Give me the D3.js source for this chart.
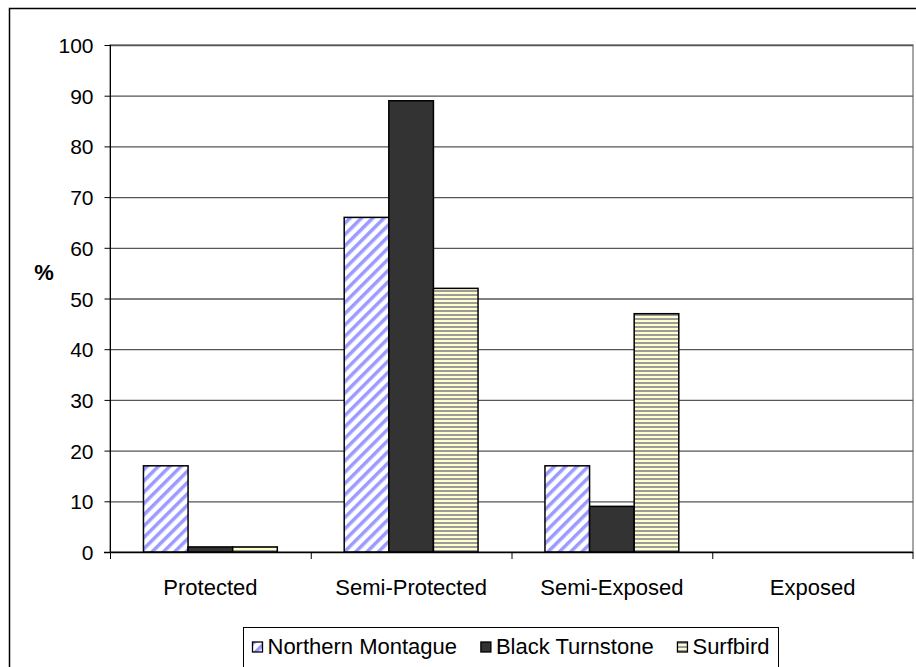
<!DOCTYPE html>
<html><head><meta charset="utf-8">
<script src="https://cdn.jsdelivr.net/npm/d3@7"></script>
<style>body{margin:0;background:#fff}svg{display:block;font-family:Arial,"Liberation Sans",sans-serif}</style>
</head><body>
<svg id="c" width="916" height="667"></svg>
<script>
const categories = ["Protected", "Semi-Protected", "Semi-Exposed", "Exposed"];
const seriesNames = ["Northern Montague", "Black Turnstone", "Surfbird"];
const northernMontague = [17, 66, 17, 0];
const blackTurnstone = [1, 89, 9, 0];
const surfbird = [1, 52, 47, 0];
const yTicks = [0, 10, 20, 30, 40, 50, 60, 70, 80, 90, 100];

(function(){
const FONT = "Arial, Liberation Sans, sans-serif";
const seriesValues = [northernMontague, blackTurnstone, surfbird];
const svg = d3.select("#c");
const defs = svg.append("defs");

const p1 = defs.append("pattern").attr("id","diag").attr("patternUnits","userSpaceOnUse")
  .attr("width",8).attr("height",8).attr("patternTransform","rotate(45)");
p1.append("rect").attr("width",8).attr("height",8).attr("fill","#fff");
p1.append("rect").attr("x",0).attr("width",3.5).attr("height",8).attr("fill","#9a9aff");
const p2 = defs.append("pattern").attr("id","horiz").attr("patternUnits","userSpaceOnUse")
  .attr("width",4).attr("height",4);
p2.append("rect").attr("width",4).attr("height",4).attr("fill","#ffffcc");
p2.append("rect").attr("y",2).attr("width",4).attr("height",2).attr("fill","#9b9b9b");

const fills = ["url(#diag)", "#333333", "url(#horiz)"];

svg.append("rect").attr("x",9.5).attr("y",8.5).attr("width",930).attr("height",700)
  .attr("fill","none").attr("stroke","#000").attr("stroke-width",1.5);

const L = 110, R = 913, T = 45, B = 552;
const x0 = d3.scaleBand().domain(categories).range([L, R]);
const bw = x0.bandwidth();
const barW = bw / 4.5;
const xs = d3.scaleBand().domain(seriesNames).range([barW*0.75, bw - barW*0.75]);
const y = d3.scaleLinear().domain([0,100]).range([B, T]);

svg.append("rect").attr("x",L).attr("y",T).attr("width",R-L).attr("height",B-T)
  .attr("fill","none").attr("stroke","#888").attr("stroke-width",1.5);

svg.append("g").selectAll("line").data(yTicks.filter(d=>d>0)).join("line")
  .attr("x1",L).attr("x2",R).attr("y1",d=>y(d)+0.5).attr("y2",d=>y(d)+0.5)
  .attr("stroke","#555").attr("stroke-width",1.3);

const g = svg.append("g");
categories.forEach((c,i)=>{
  seriesNames.forEach((s,j)=>{
    const v = seriesValues[j][i];
    if (v <= 0) return;
    g.append("rect")
      .attr("x", x0(c) + xs(s))
      .attr("y", y(v))
      .attr("width", xs.bandwidth())
      .attr("height", y(0)-y(v))
      .attr("fill", fills[j]).attr("stroke","#000").attr("stroke-width",1.5);
  });
});

const yAxis = d3.axisLeft(y).tickValues(yTicks).tickSize(6).tickPadding(11);
const ya = svg.append("g").attr("transform",`translate(${L+0.5},0)`).call(yAxis);
ya.attr("font-size",21).attr("font-family",FONT);
ya.select(".domain").attr("stroke","#000").attr("d",`M0,${T}V${B+7}`);
ya.selectAll(".tick line").attr("stroke","#000");
ya.selectAll("text").attr("fill","#000").attr("dy","0.36em");

const xAxis = d3.axisBottom(x0).tickSize(0).tickPadding(27);
const xa = svg.append("g").attr("transform",`translate(0,${B+0.5})`).call(xAxis);
xa.attr("font-size",22).attr("font-family",FONT);
xa.select(".domain").attr("stroke","#000").attr("stroke-width",1.5).attr("d",`M${L-6},0H${R}`);
xa.selectAll("text").attr("fill","#000");
svg.append("g").selectAll("line").data(categories.slice(1)).join("line")
  .attr("x1",d=>x0(d)+0.5).attr("x2",d=>x0(d)+0.5).attr("y1",B).attr("y2",B+7)
  .attr("stroke","#000");
svg.append("line").attr("x1",R).attr("x2",R).attr("y1",B).attr("y2",B+7).attr("stroke","#000");

svg.append("text").attr("x",44).attr("y",280).attr("text-anchor","middle")
  .attr("font-size",22).attr("font-weight","bold").attr("font-family",FONT).text("%");

// legend
const boxL = 243.5, boxR = 778.5;
const lg = svg.append("g").attr("font-family",FONT).attr("font-size",22);
lg.append("rect").attr("x",boxL).attr("y",627.5).attr("width",boxR-boxL).attr("height",60)
  .attr("fill","#fff").attr("stroke","#000").attr("stroke-width",1);
const texts = seriesNames.map(s => lg.append("text").attr("y",654).text(s));
const widths = texts.map(t => t.node().getComputedTextLength());
const sw = 10, gap1 = 5;
const totalItems = d3.sum(widths) + 3*(sw+gap1);
const gap2 = Math.max(8, ((boxR-boxL) - 18 - totalItems) / 2);
let cx = boxL + 9;
seriesNames.forEach((s,j)=>{
  lg.append("rect").attr("x",cx).attr("y",642).attr("width",sw).attr("height",sw)
    .attr("fill",fills[j]).attr("stroke","#000").attr("stroke-width",1.3);
  texts[j].attr("x", cx + sw + gap1);
  cx += sw + gap1 + widths[j] + gap2;
});
})();
</script>
</body></html>
